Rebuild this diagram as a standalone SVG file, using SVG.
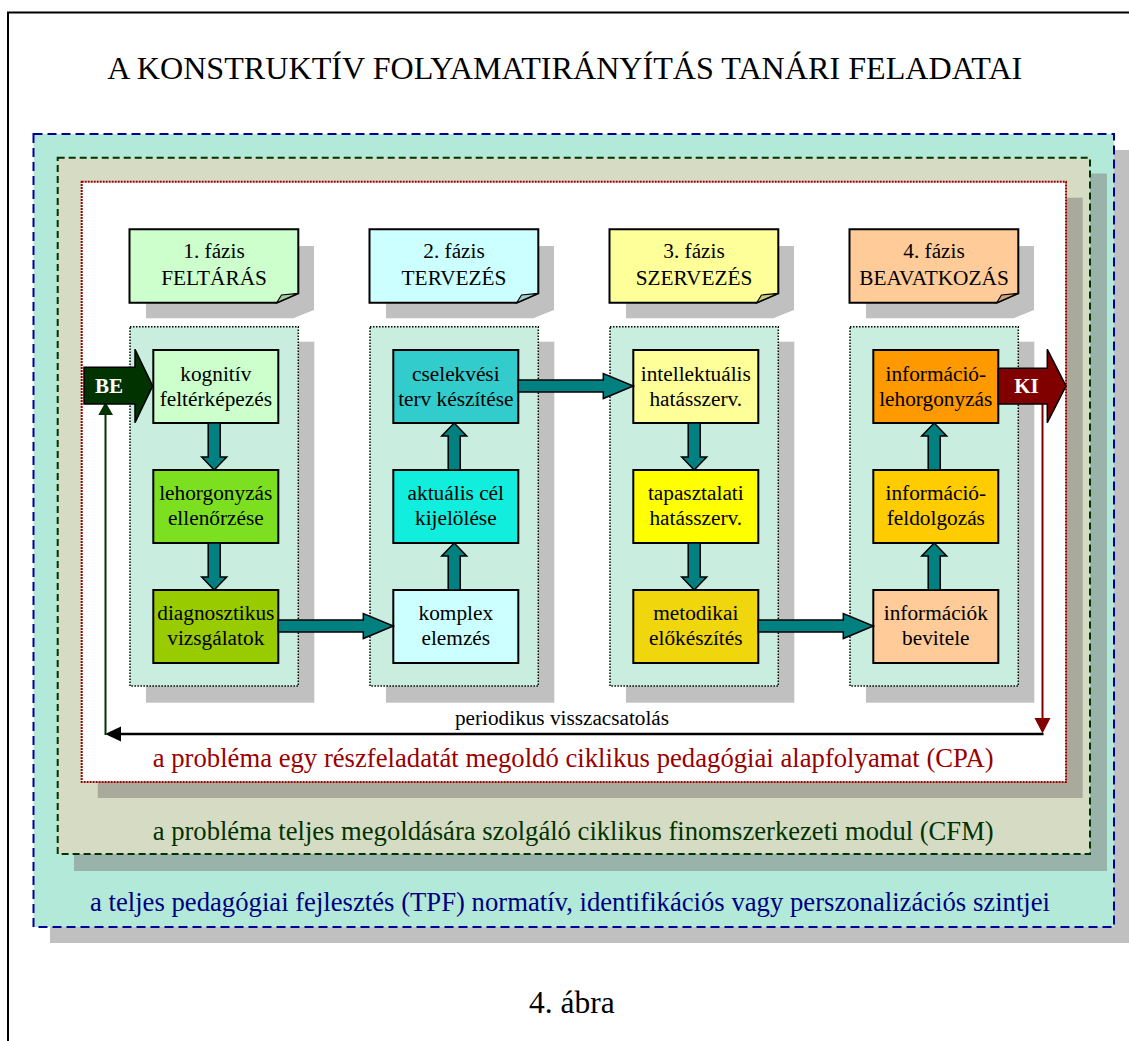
<svg xmlns="http://www.w3.org/2000/svg" width="1129" height="1041" viewBox="0 0 1129 1041">
<style>
text{font-family:"Liberation Serif","Times New Roman",serif;}
.t{font-size:21.3px;fill:#000;text-anchor:middle;}
.ph{stroke:#000;stroke-width:2;}
.curl{stroke:#000;stroke-width:1.2;}
.sh{fill:#C0C0C0;}
.col{fill:#C9EEE0;stroke:#000;stroke-width:1.5;stroke-dasharray:1.5 1.5;}
.node{stroke:#000;stroke-width:2;}
.arr{fill:#008080;stroke:#000;stroke-width:1.5;stroke-linejoin:miter;}
.lbl{font-size:26.6px;}
</style>
<rect width="1129" height="1041" fill="#fff"/>
<path d="M8,1041 V12.5 H1129" fill="none" stroke="#000" stroke-width="2"/>
<text x="107.3" y="78.5" style="font-size:31.5px" textLength="915" lengthAdjust="spacingAndGlyphs">A KONSTRUKTÍV FOLYAMATIRÁNYÍTÁS TANÁRI FELADATAI</text>

<g id="level-tpf">
<rect x="50" y="150" width="1090" height="793" fill="#C0C0C0"/>
<rect x="33.5" y="134" width="1080.5" height="793" fill="#B3E9D9" stroke="#000099" stroke-width="2" stroke-dasharray="9 5"/>
</g>
<g id="level-cfm">
<rect x="74" y="173.5" width="1033" height="697.5" fill="#99B3AA"/>
<rect x="57.7" y="157.7" width="1032.3" height="696.3" fill="#D6DCC4" stroke="#003300" stroke-width="2" stroke-dasharray="7 4"/>
</g>
<g id="level-cpa">
<rect x="97.7" y="197.7" width="985" height="600.3" fill="#AAAA9C"/>
<rect x="81.7" y="181.7" width="984.3" height="600.3" fill="#fff" stroke="#990000" stroke-width="2" stroke-dasharray="2 1"/>
</g>

<g id="phase1">
<path class="sh" d="M146,246 H314 V310 L293.3,318.3 H146 Z"/>
<path class="ph" fill="#CCFFCC" d="M129.5,229.3 H298.3 V293.3 L276.7,302.7 H129.5 Z"/>
<path class="curl" fill="#A3CCA3" d="M276.7,302.7 L281.5,295 L298.3,293.3 Z"/>
<text class="t" x="214" y="258">1. fázis</text>
<text class="t" x="214" y="285">FELTÁRÁS</text>
</g>
<g id="phase2">
<path class="sh" d="M386,246 H554 V310 L533.3,318.3 H386 Z"/>
<path class="ph" fill="#CCFFFF" d="M369.5,229.3 H538.3 V293.3 L516.7,302.7 H369.5 Z"/>
<path class="curl" fill="#A3CCCC" d="M516.7,302.7 L521.5,295 L538.3,293.3 Z"/>
<text class="t" x="454" y="258">2. fázis</text>
<text class="t" x="454" y="285">TERVEZÉS</text>
</g>
<g id="phase3">
<path class="sh" d="M626,246 H794 V310 L773.3,318.3 H626 Z"/>
<path class="ph" fill="#FFFF99" d="M609.5,229.3 H778.3 V293.3 L756.7,302.7 H609.5 Z"/>
<path class="curl" fill="#CCCC7A" d="M756.7,302.7 L761.5,295 L778.3,293.3 Z"/>
<text class="t" x="694" y="258">3. fázis</text>
<text class="t" x="694" y="285">SZERVEZÉS</text>
</g>
<g id="phase4">
<path class="sh" d="M866,246 H1034 V310 L1013.3,318.3 H866 Z"/>
<path class="ph" fill="#FFCC99" d="M849.5,229.3 H1018.3 V293.3 L996.7,302.7 H849.5 Z"/>
<path class="curl" fill="#CCA37A" d="M996.7,302.7 L1001.5,295 L1018.3,293.3 Z"/>
<text class="t" x="934" y="258">4. fázis</text>
<text class="t" x="934" y="285">BEAVATKOZÁS</text>
</g>

<g id="columns">
<rect class="sh" x="146" y="341.7" width="168.3" height="361"/>
<rect class="col" x="130" y="326.7" width="168.3" height="359.3"/>
<rect class="sh" x="386" y="341.7" width="168.3" height="361"/>
<rect class="col" x="370" y="326.7" width="168.3" height="359.3"/>
<rect class="sh" x="626" y="341.7" width="168.3" height="361"/>
<rect class="col" x="610" y="326.7" width="168.3" height="359.3"/>
<rect class="sh" x="866" y="341.7" width="168.3" height="361"/>
<rect class="col" x="850" y="326.7" width="168.3" height="359.3"/>
</g>

<g id="n-kognitiv"><rect class="node" x="153.3" y="350" width="125" height="73" fill="#CCFFCC"/>
<text class="t" x="215.8" y="381">kognitív</text><text class="t" x="215.8" y="406">feltérképezés</text></g>
<g id="n-lehorgonyzas"><rect class="node" x="153.3" y="470" width="125" height="73" fill="#7CE020"/>
<text class="t" x="215.8" y="500">lehorgonyzás</text><text class="t" x="215.8" y="525">ellenőrzése</text></g>
<g id="n-diagnosztikus"><rect class="node" x="153.3" y="590" width="125" height="73" fill="#99CC00"/>
<text class="t" x="215.8" y="620">diagnosztikus</text><text class="t" x="215.8" y="645">vizsgálatok</text></g>

<g id="n-cselekvesi"><rect class="node" x="393.3" y="350" width="125" height="73" fill="#33CCCC"/>
<text class="t" x="455.8" y="381">cselekvési</text><text class="t" x="455.8" y="406">terv készítése</text></g>
<g id="n-aktualis"><rect class="node" x="393.3" y="470" width="125" height="73" fill="#12EEDD"/>
<text class="t" x="455.8" y="500">aktuális cél</text><text class="t" x="455.8" y="525">kijelölése</text></g>
<g id="n-komplex"><rect class="node" x="393.3" y="590" width="125" height="73" fill="#CCFFFF"/>
<text class="t" x="455.8" y="620">komplex</text><text class="t" x="455.8" y="645">elemzés</text></g>

<g id="n-intellektualis"><rect class="node" x="633.3" y="350" width="125" height="73" fill="#FFFF99"/>
<text class="t" x="695.8" y="381">intellektuális</text><text class="t" x="695.8" y="406">hatásszerv.</text></g>
<g id="n-tapasztalati"><rect class="node" x="633.3" y="470" width="125" height="73" fill="#FFFF00"/>
<text class="t" x="695.8" y="500">tapasztalati</text><text class="t" x="695.8" y="525">hatásszerv.</text></g>
<g id="n-metodikai"><rect class="node" x="633.3" y="590" width="125" height="73" fill="#F0D60C"/>
<text class="t" x="695.8" y="620">metodikai</text><text class="t" x="695.8" y="645">előkészítés</text></g>

<g id="n-info-lehorgonyzas"><rect class="node" x="873.3" y="350" width="125" height="73" fill="#FF9900"/>
<text class="t" x="935.8" y="381">információ-</text><text class="t" x="935.8" y="406">lehorgonyzás</text></g>
<g id="n-info-feldolgozas"><rect class="node" x="873.3" y="470" width="125" height="73" fill="#FFCC00"/>
<text class="t" x="935.8" y="500">információ-</text><text class="t" x="935.8" y="525">feldolgozás</text></g>
<g id="n-info-bevitel"><rect class="node" x="873.3" y="590" width="125" height="73" fill="#FFCC99"/>
<text class="t" x="935.8" y="620">információk</text><text class="t" x="935.8" y="645">bevitele</text></g>

<g id="connectors">
<polygon class="arr" points="208.2,423 220.2,423 220.2,457 226.7,457 214.2,470 201.7,457 208.2,457"/>
<polygon class="arr" points="208.2,543 220.2,543 220.2,577 226.7,577 214.2,590 201.7,577 208.2,577"/>
<polygon class="arr" points="278.3,620 363.3,620 363.3,613.5 393.3,626 363.3,638.5 363.3,632 278.3,632"/>
<polygon class="arr" points="448.2,590 460.2,590 460.2,556 466.7,556 454.2,543 441.7,556 448.2,556"/>
<polygon class="arr" points="448.2,470 460.2,470 460.2,436 466.7,436 454.2,423 441.7,436 448.2,436"/>
<polygon class="arr" points="518.3,380 603.3,380 603.3,373.5 633.3,386 603.3,398.5 603.3,392 518.3,392"/>
<polygon class="arr" points="688.2,423 700.2,423 700.2,457 706.7,457 694.2,470 681.7,457 688.2,457"/>
<polygon class="arr" points="688.2,543 700.2,543 700.2,577 706.7,577 694.2,590 681.7,577 688.2,577"/>
<polygon class="arr" points="758.3,620 843.3,620 843.3,613.5 873.3,626 843.3,638.5 843.3,632 758.3,632"/>
<polygon class="arr" points="928.2,590 940.2,590 940.2,556 946.7,556 934.2,543 921.7,556 928.2,556"/>
<polygon class="arr" points="928.2,470 940.2,470 940.2,436 946.7,436 934.2,423 921.7,436 928.2,436"/>
<line x1="1042.5" y1="404" x2="1042.5" y2="719" stroke="#800000" stroke-width="2"/>
<polygon points="1034.5,718 1050.5,718 1042.5,733.5" fill="#800000"/>
<line x1="120" y1="734" x2="1043.5" y2="734" stroke="#000" stroke-width="2.3"/>
<polygon points="121,726.5 121,741.5 105,734" fill="#000"/>
<line x1="105.5" y1="735" x2="105.5" y2="414" stroke="#003300" stroke-width="2"/>
<polygon points="98.3,415 113,415 105.5,402" fill="#003300"/>
</g>

<g id="be">
<polygon points="84,367.3 135,367.3 135,349.3 152.7,386 135,422.7 135,404 84,404" fill="#003300" stroke="#000" stroke-width="1.5"/>
<text x="109" y="393" style="font-size:21px;font-weight:bold;fill:#fff;text-anchor:middle">BE</text>
</g>
<g id="ki">
<polygon points="998.3,368.3 1047.3,368.3 1047.3,349.3 1066,386 1047.3,422.7 1047.3,404 998.3,404" fill="#800000" stroke="#000" stroke-width="1.5"/>
<text x="1026.5" y="393" style="font-size:21px;font-weight:bold;fill:#fff;text-anchor:middle">KI</text>
</g>

<text x="455" y="725" style="font-size:20.8px" textLength="214" lengthAdjust="spacingAndGlyphs">periodikus visszacsatolás</text>
<text class="lbl" x="152.7" y="767" fill="#990000" textLength="841" lengthAdjust="spacingAndGlyphs">a probléma egy részfeladatát megoldó ciklikus pedagógiai alapfolyamat (CPA)</text>
<text class="lbl" x="152.7" y="839.5" fill="#003300" textLength="841" lengthAdjust="spacingAndGlyphs">a probléma teljes megoldására szolgáló ciklikus finomszerkezeti modul (CFM)</text>
<text class="lbl" x="90" y="911" fill="#000080" textLength="960" lengthAdjust="spacingAndGlyphs">a teljes pedagógiai fejlesztés (TPF) normatív, identifikációs vagy perszonalizációs szintjei</text>
<text x="529" y="1013" style="font-size:31.5px">4. ábra</text>
</svg>
